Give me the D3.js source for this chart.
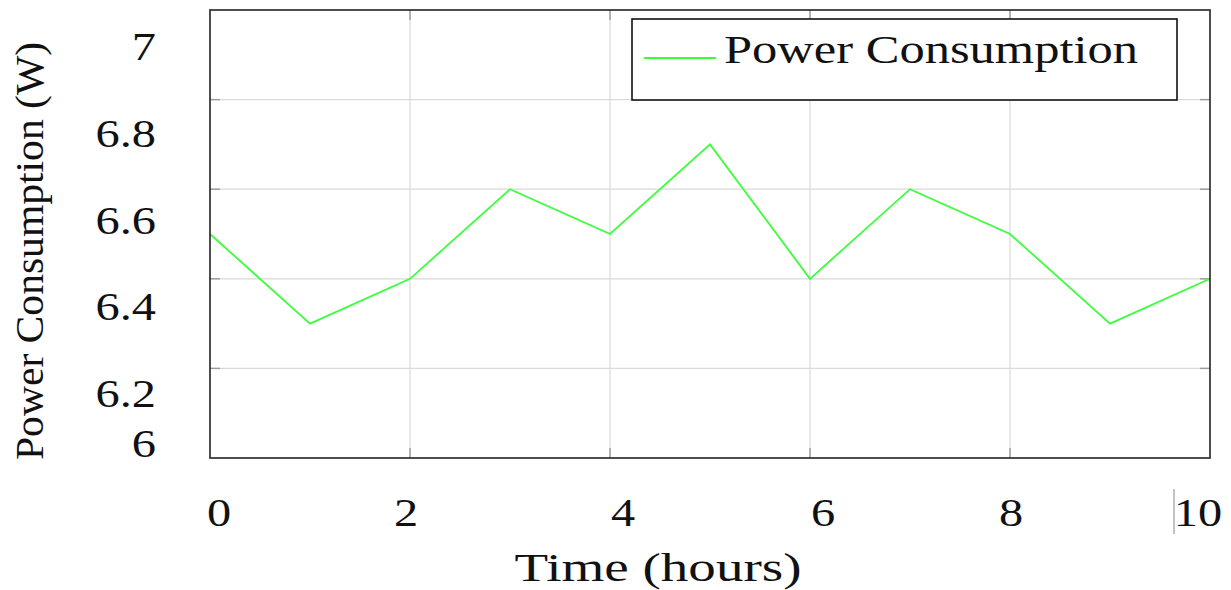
<!DOCTYPE html>
<html>
<head>
<meta charset="utf-8">
<script src="https://cdn.jsdelivr.net/npm/d3@7"></script>
<style>
  html, body { margin: 0; padding: 0; background: #fff; }
  text { fill: #111; }
</style>
</head>
<body>
<div id="chart"></div>
<script>
// data
const hours = [0, 1, 2, 3, 4, 5, 6, 7, 8, 9, 10];
const power = [6.5, 6.3, 6.4, 6.6, 6.5, 6.7, 6.4, 6.6, 6.5, 6.3, 6.4];
const xTicks = [0, 2, 4, 6, 8, 10];
const yTicks = [6, 6.2, 6.4, 6.6, 6.8, 7];
const seriesName = "Power Consumption";

// pick a Times-like face that is actually installed
function pickFont(list) {
    const ctx = document.createElement("canvas").getContext("2d");
    const probe = "Power Consumption 6.8";
    ctx.font = "40px monospace";
    const base = ctx.measureText(probe).width;
    for (const f of list) {
        ctx.font = `40px "${f}", monospace`;
        if (Math.abs(ctx.measureText(probe).width - base) > 0.5) return `"${f}"`;
    }
    return "serif";
}
const serif = pickFont(["Liberation Serif", "Tinos", "Times New Roman", "Nimbus Roman", "FreeSerif", "DejaVu Serif"]);
const timesLike = serif !== '"DejaVu Serif"' && serif !== "serif";

// layout
const W = 1231, H = 590;
const box = { left: 210, top: 10, right: 1210, bottom: 458 };
const fontSize = timesLike ? 41 : 38;
const tickStretch = timesLike ? 1.18 : 1.0;
// the labels in the picture sit a little off their ticks
const xLabelNudge = [9, -4, 13, 13, 1, -12];

const svg = d3.select("#chart").append("svg")
    .attr("width", W)
    .attr("height", H)
    .style("font-family", serif);

const x = d3.scaleLinear().domain([0, 10]).range([box.left, box.right]);
const y = d3.scaleLinear().domain([6, 7]).range([box.bottom, box.top]);
// tick labels drift from the grid; this scale places them
const yLab = d3.scaleLinear().domain([6.2, 7]).range([407, 60]);

// grid
const innerX = xTicks.filter(d => d > 0 && d < 10);
const innerY = yTicks.filter(d => d > 6 && d < 7);

svg.append("g").selectAll("line")
    .data(innerX).enter().append("line")
    .attr("x1", d => x(d)).attr("x2", d => x(d))
    .attr("y1", box.top).attr("y2", box.bottom)
    .attr("stroke", "#d9d9d9").attr("stroke-width", 1.2);

svg.append("g").selectAll("line")
    .data(innerY).enter().append("line")
    .attr("x1", box.left).attr("x2", box.right)
    .attr("y1", d => y(d)).attr("y2", d => y(d))
    .attr("stroke", "#d9d9d9").attr("stroke-width", 1.2);

// inward ticks on all four sides
const tickLen = 10;
const ticks = svg.append("g").attr("stroke", "#9a9a9a").attr("stroke-width", 1.4);
innerX.forEach(d => {
    ticks.append("line").attr("x1", x(d)).attr("x2", x(d))
        .attr("y1", box.bottom).attr("y2", box.bottom - tickLen);
    ticks.append("line").attr("x1", x(d)).attr("x2", x(d))
        .attr("y1", box.top).attr("y2", box.top + tickLen);
});
innerY.forEach(d => {
    ticks.append("line").attr("x1", box.left).attr("x2", box.left + tickLen)
        .attr("y1", y(d)).attr("y2", y(d));
    ticks.append("line").attr("x1", box.right).attr("x2", box.right - tickLen)
        .attr("y1", y(d)).attr("y2", y(d));
});

// the series
const line = d3.line()
    .x((d, i) => x(hours[i]))
    .y(d => y(d));

svg.append("path")
    .datum(power)
    .attr("fill", "none")
    .attr("stroke", "#3cff3c")
    .attr("stroke-width", 1.8)
    .attr("d", line);

// frame
svg.append("rect")
    .attr("x", box.left).attr("y", box.top)
    .attr("width", box.right - box.left)
    .attr("height", box.bottom - box.top)
    .attr("fill", "none")
    .attr("stroke", "#222")
    .attr("stroke-width", 1.6);

function widen(sel, k) {
    if (k === 1) return;
    sel.each(function() {
        const w = this.getComputedTextLength();
        d3.select(this).attr("textLength", w * k).attr("lengthAdjust", "spacingAndGlyphs");
    });
}

// y tick labels
svg.append("g").selectAll("text")
    .data(yTicks).enter().append("text")
    .attr("x", 156)
    .attr("y", d => Math.min(yLab(d), y(6) - 1))
    .attr("text-anchor", "end")
    .style("font-size", fontSize + "px")
    .text(d => d3.format("~g")(d))
    .call(widen, tickStretch);

// x tick labels
svg.append("g").selectAll("text")
    .data(xTicks).enter().append("text")
    .attr("x", (d, i) => x(d) + xLabelNudge[i])
    .attr("y", 526)
    .attr("text-anchor", "middle")
    .style("font-size", fontSize + "px")
    .text(d => d)
    .call(widen, tickStretch);

// stray bar left of the last label
svg.append("line")
    .attr("x1", 1174).attr("x2", 1174)
    .attr("y1", 489).attr("y2", 534)
    .attr("stroke", "#999").attr("stroke-width", 1.2);

// axis titles
svg.append("text")
    .attr("x", 658)
    .attr("y", 581)
    .attr("text-anchor", "middle")
    .style("font-size", fontSize + "px")
    .attr("textLength", 287).attr("lengthAdjust", "spacingAndGlyphs")
    .text("Time (hours)");

svg.append("text")
    .attr("transform", "translate(43,251) rotate(-90)")
    .attr("text-anchor", "middle")
    .style("font-size", fontSize + "px")
    .attr("textLength", 418).attr("lengthAdjust", "spacingAndGlyphs")
    .text("Power Consumption (W)");

// legend
const legend = svg.append("g");
legend.append("rect")
    .attr("x", 632).attr("y", 19)
    .attr("width", 545).attr("height", 81)
    .attr("fill", "#fff")
    .attr("stroke", "#111")
    .attr("stroke-width", 1.6);
legend.append("line")
    .attr("x1", 644).attr("x2", 716)
    .attr("y1", 58).attr("y2", 58)
    .attr("stroke", "#3cff3c").attr("stroke-width", 1.8);
legend.append("text")
    .attr("x", 724).attr("y", 63)
    .style("font-size", fontSize + "px")
    .attr("textLength", 414).attr("lengthAdjust", "spacingAndGlyphs")
    .text(seriesName);
</script>
</body>
</html>
